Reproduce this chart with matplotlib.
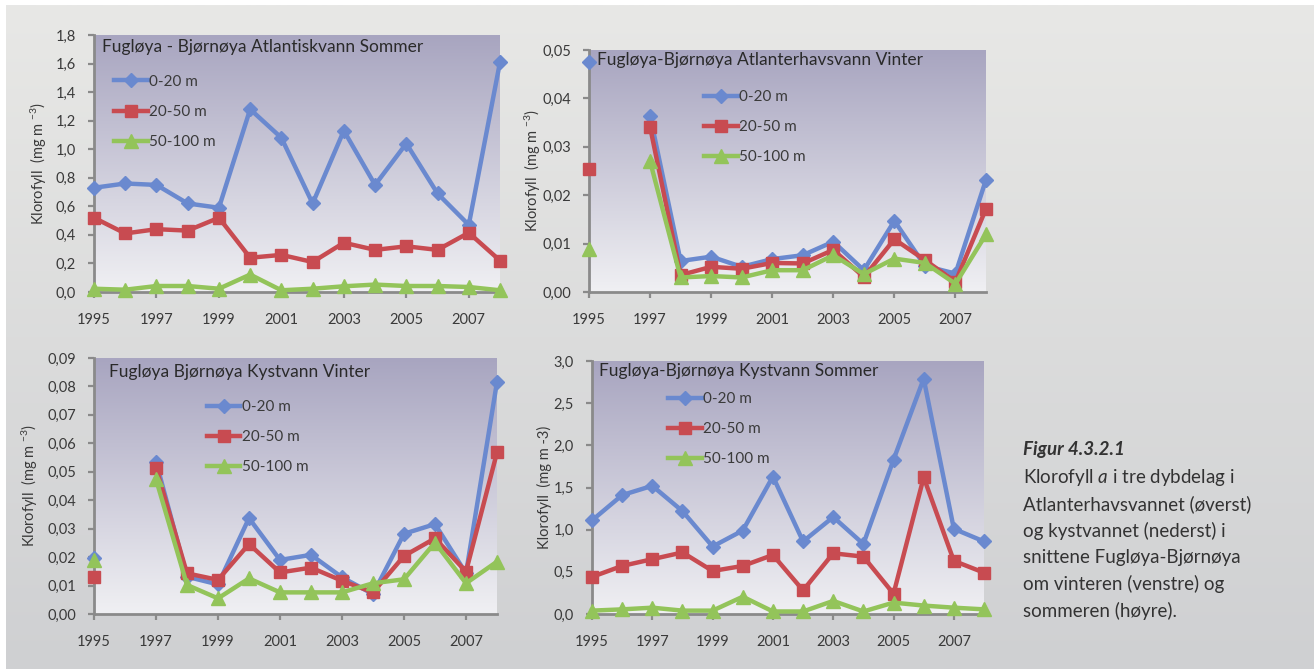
import numpy as np
import matplotlib
matplotlib.use("Agg")
import matplotlib.pyplot as plt
from matplotlib.colors import LinearSegmentedColormap

plt.rcParams['font.family'] = ['Lato', 'DejaVu Sans']
plt.rcParams['mathtext.fontset'] = 'custom'
plt.rcParams['mathtext.rm'] = 'Lato'
plt.rcParams['mathtext.it'] = 'Lato:italic'

nan = np.nan
years = list(range(1995, 2009))
series_labels = ['0-20 m', '20-50 m', '50-100 m']

# Panel 1: Atlantiskvann Sommer
atl_sommer_0_20 = [0.73, 0.76, 0.75, 0.62, 0.59, 1.28, 1.08, 0.62, 1.13, 0.75, 1.04, 0.69, 0.47, 1.61]
atl_sommer_20_50 = [0.52, 0.41, 0.44, 0.43, 0.52, 0.24, 0.26, 0.21, 0.345, 0.295, 0.32, 0.295, 0.415, 0.22]
atl_sommer_50_100 = [0.023, 0.016, 0.042, 0.042, 0.023, 0.122, 0.012, 0.023, 0.04, 0.052, 0.042, 0.042, 0.035, 0.012]

# Panel 2: Atlanterhavsvann Vinter
atl_vinter_0_20 = [0.0475, nan, 0.0364, 0.0064, 0.0073, 0.0052, 0.0068, 0.0076, 0.0104, 0.0045, 0.0147, 0.0054, 0.0038, 0.0232]
atl_vinter_20_50 = [0.0255, nan, 0.0341, 0.0035, 0.0052, 0.0048, 0.0060, 0.0059, 0.0087, 0.0031, 0.0109, 0.0066, 0.0021, 0.0172]
atl_vinter_50_100 = [0.0088, nan, 0.0270, 0.0030, 0.0033, 0.0030, 0.0045, 0.0045, 0.0076, 0.0037, 0.0069, 0.0060, 0.0017, 0.0119]

# Panel 3: Kystvann Vinter
kyst_vinter_0_20 = [0.0196, nan, 0.0536, 0.0131, 0.0104, 0.0337, 0.0190, 0.0208, 0.0129, 0.0070, 0.0282, 0.0316, 0.0143, 0.0816]
kyst_vinter_20_50 = [0.0131, nan, 0.0515, 0.0143, 0.0120, 0.0246, 0.0146, 0.0163, 0.0117, 0.0076, 0.0204, 0.0266, 0.0149, 0.0568]
kyst_vinter_50_100 = [0.0190, nan, 0.0474, 0.0102, 0.0055, 0.0125, 0.0076, 0.0076, 0.0076, 0.0108, 0.0122, 0.0251, 0.0108, 0.0184]

# Panel 4: Kystvann Sommer
kyst_sommer_0_20 = [1.11, 1.41, 1.52, 1.22, 0.80, 0.99, 1.63, 0.86, 1.15, 0.83, 1.83, 2.79, 1.01, 0.86]
kyst_sommer_20_50 = [0.44, 0.57, 0.65, 0.73, 0.51, 0.57, 0.70, 0.28, 0.72, 0.68, 0.24, 1.62, 0.63, 0.49]
kyst_sommer_50_100 = [0.04, 0.055, 0.075, 0.04, 0.04, 0.205, 0.03, 0.03, 0.155, 0.03, 0.135, 0.10, 0.075, 0.055]

titles = ['Fugløya - Bjørnøya Atlantiskvann Sommer',
          'Fugløya-Bjørnøya Atlanterhavsvann Vinter',
          'Fugløya Bjørnøya Kystvann Vinter',
          'Fugløya-Bjørnøya Kystvann Sommer']
ylabels = [r'Klorofyll  (mg m $^{-3}$)', r'Klorofyll  (mg m $^{-3}$)',
           r'Klorofyll  (mg m $^{-3}$)', 'Klorofyll  (mg m -3)']
yticks_list = [[0, 0.2, 0.4, 0.6, 0.8, 1.0, 1.2, 1.4, 1.6, 1.8],
               [0, 0.01, 0.02, 0.03, 0.04, 0.05],
               [0, 0.01, 0.02, 0.03, 0.04, 0.05, 0.06, 0.07, 0.08, 0.09],
               [0, 0.5, 1.0, 1.5, 2.0, 2.5, 3.0]]
ydecimals = [1, 2, 2, 1]
xticks = [1995, 1997, 1999, 2001, 2003, 2005, 2007]

caption_title = 'Figur 4.3.2.1'
caption_lines = [r'Klorofyll $\mathit{a}$ i tre dybdelag i',
                 'Atlanterhavsvannet (øverst)',
                 'og kystvannet (nederst) i',
                 'snittene Fugløya-Bjørnøya',
                 'om vinteren (venstre) og',
                 'sommeren (høyre).']

panel_data = [
    [atl_sommer_0_20, atl_sommer_20_50, atl_sommer_50_100],
    [atl_vinter_0_20, atl_vinter_20_50, atl_vinter_50_100],
    [kyst_vinter_0_20, kyst_vinter_20_50, kyst_vinter_50_100],
    [kyst_sommer_0_20, kyst_sommer_20_50, kyst_sommer_50_100],
]

# ---- layout / style ----
W, H = 1314, 669
fig = plt.figure(figsize=(W / 100, H / 100), dpi=100, facecolor='white')

# figure background gradient
bg = fig.add_axes([6 / W, 0, 1 - 6 / W, 1 - 5 / H], zorder=-5)
bg_cmap = LinearSegmentedColormap.from_list('bg', ['#cfd0d2', '#e8e8e6'])
bg.imshow(np.linspace(0, 1, 256)[:, None], cmap=bg_cmap, aspect='auto',
          origin='lower', extent=[0, 1, 0, 1])
bg.set_axis_off()

plot_cmap = LinearSegmentedColormap.from_list('pl', ['#f0f0f3', '#a8a5c0'])

colors = ['#6a89cf', '#c84b51', '#93c45a']
markers = ['D', 's', '^']
msizes = [7.5, 8.5, 9.5]

# pixel boxes: left, right, top, bottom
boxes = [(94, 500, 35, 292), (589, 986, 50, 292), (94, 497, 358, 614), (592, 984, 361, 614)]
title_pos = [(0.02, 0.953), (0.02, 0.958), (0.037, 0.945), (0.018, 0.96)]
legend_pos = [(0.049, 0.845), (0.29, 0.833), (0.28, 0.835), (0.194, 0.877)]
ylabel_x = [-0.111, -0.116, -0.134, -0.102]

spine_col = '#8a8a8a'
txt_col = '#3a3a3a'

for i in range(4):
    l, r, t, b = boxes[i]
    ax = fig.add_axes([l / W, 1 - b / H, (r - l) / W, (b - t) / H])
    ax.imshow(np.linspace(0, 1, 256)[:, None], cmap=plot_cmap, aspect='auto',
              origin='lower', extent=[0, 1, 0, 1], transform=ax.transAxes, zorder=0)
    for j in range(3):
        ax.plot(years, panel_data[i][j], color=colors[j], lw=3.2, marker=markers[j],
                ms=msizes[j], mec=colors[j], mfc=colors[j], label=series_labels[j],
                zorder=3, clip_on=False)
    yt = yticks_list[i]
    ax.set_xlim(1995, 2008)
    ax.set_ylim(yt[0], yt[-1])
    ax.set_xticks(xticks)
    ax.set_xticklabels([str(x) for x in xticks])
    ax.set_yticks(yt)
    ax.set_yticklabels([f'{v:.{ydecimals[i]}f}'.replace('.', ',') for v in yt])
    for s in ['top', 'right']:
        ax.spines[s].set_visible(False)
    for s in ['left', 'bottom']:
        ax.spines[s].set_color(spine_col)
        ax.spines[s].set_linewidth(2)
        ax.spines[s].set_zorder(2)
    ax.tick_params(axis='x', direction='out', length=4, width=1.6, color=spine_col,
                   labelsize=10.5, labelcolor=txt_col, pad=11)
    ax.tick_params(axis='y', direction='out', length=4, width=1.6, color=spine_col,
                   labelsize=10.5, labelcolor=txt_col, pad=9)
    ax.set_ylabel(ylabels[i], fontsize=10.5, color=txt_col)
    ax.yaxis.set_label_coords(ylabel_x[i], 0.5)
    ax.text(title_pos[i][0], title_pos[i][1], titles[i], transform=ax.transAxes,
            fontsize=12.5, color='#2a2a2a', va='center', ha='left', zorder=5)
    leg = ax.legend(loc='upper left', bbox_to_anchor=legend_pos[i], frameon=False,
                    fontsize=11, handlelength=2.2, handletextpad=0.1, labelspacing=1.05,
                    borderpad=0, borderaxespad=0)
    for txt in leg.get_texts():
        txt.set_color(txt_col)

# caption
fig.text(1023 / W, 1 - 450 / H, caption_title, fontsize=13.5, fontweight='bold',
         fontstyle='italic', color='#333333', va='center', ha='left')
for k, line in enumerate(caption_lines):
    fig.text(1023 / W, 1 - (477 + k * 26.8) / H, line, fontsize=13.5,
             color='#333333', va='center', ha='left')

fig.savefig('out.png', dpi=100, facecolor='white')
